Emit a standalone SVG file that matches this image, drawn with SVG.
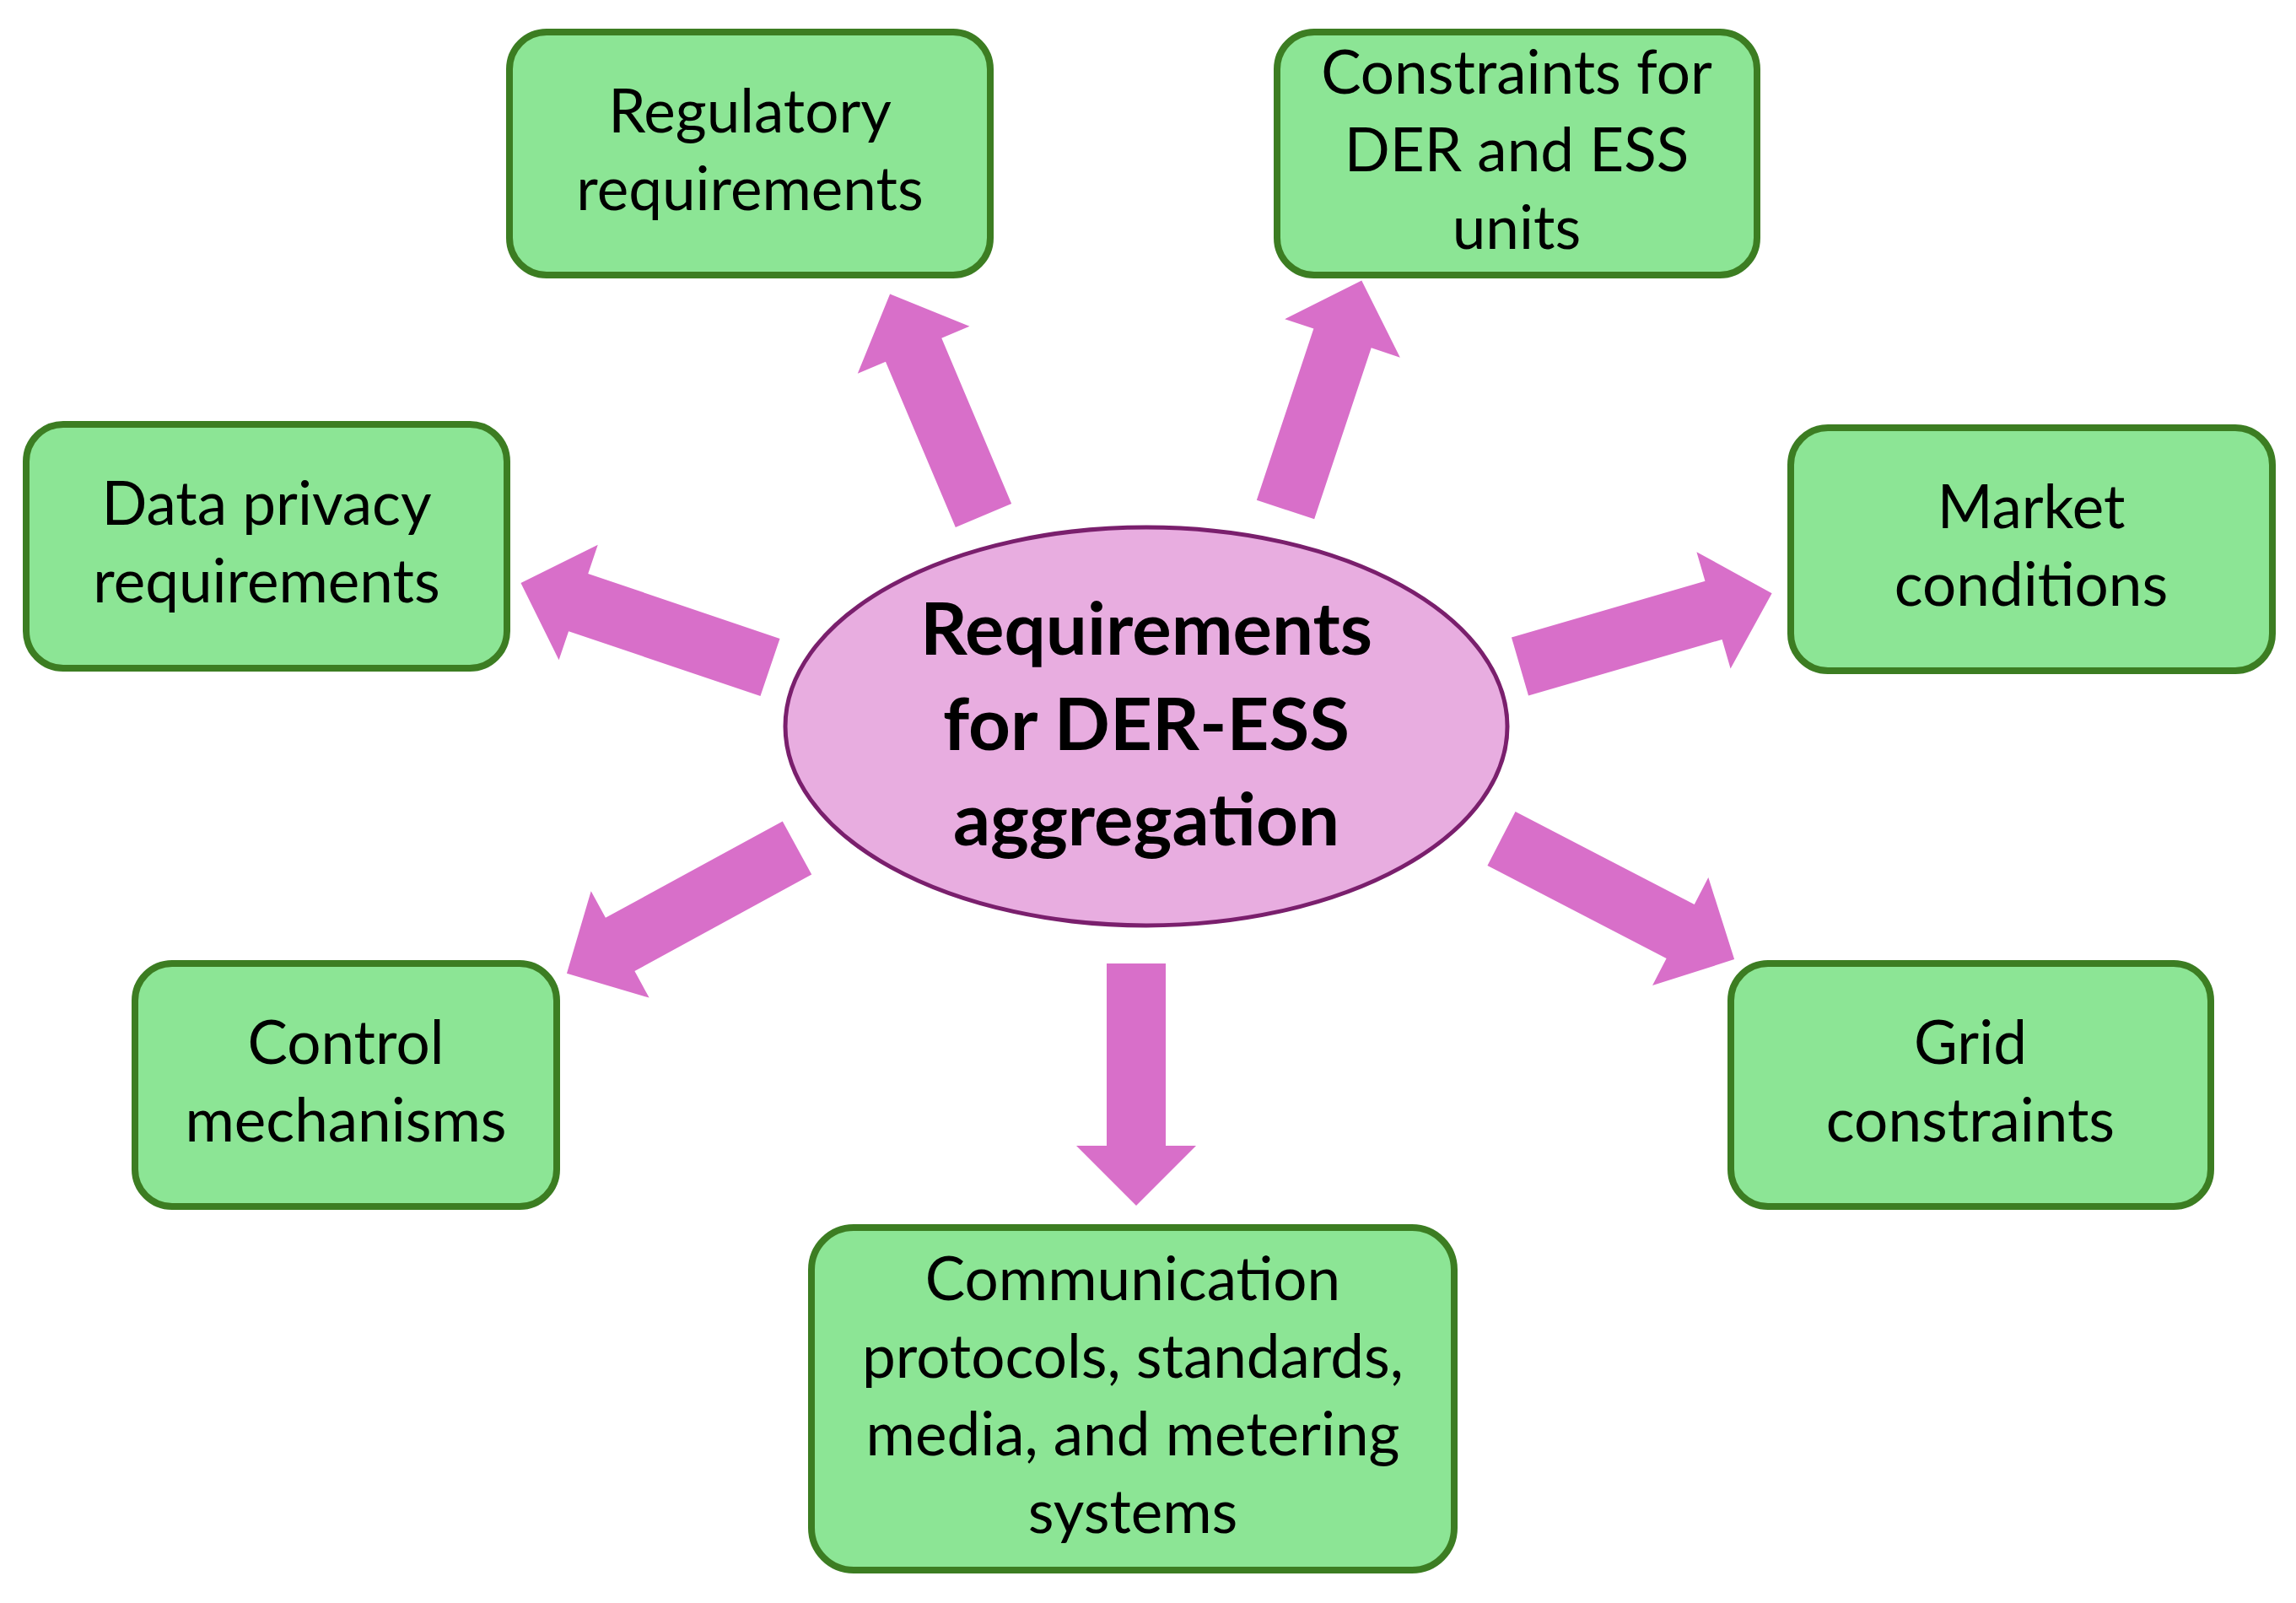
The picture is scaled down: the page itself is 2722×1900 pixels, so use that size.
<svg xmlns="http://www.w3.org/2000/svg" width="2722" height="1900" viewBox="0 0 2722 1900">
<style>
.box{fill:#8CE595;stroke:#3C7D22;stroke-width:8}
.lbl{font-family:Lato,"Open Sans",sans-serif;font-size:71px;fill:#000;text-anchor:middle}
.ctr{font-family:Lato,"Open Sans",sans-serif;font-size:87px;font-weight:bold;fill:#000;text-anchor:middle}
.arrow{fill:#D86FC9}
</style>
<rect width="2722" height="1900" fill="#fff"/>
<g id="connectors">
<polygon class="arrow" transform="translate(1166,611) rotate(-112.9)" points="0,-36 213,-36 213,-72 285,0 213,72 213,36 0,36"/>
<polygon class="arrow" transform="translate(1524,604) rotate(-71.6)" points="0,-36 214,-36 214,-72 286,0 214,72 214,36 0,36"/>
<polygon class="arrow" transform="translate(913,791) rotate(-161.3)" points="0,-36 240,-36 240,-72 312,0 240,72 240,36 0,36"/>
<polygon class="arrow" transform="translate(1802,790) rotate(-16.2)" points="0,-36 239,-36 239,-72 311,0 239,72 239,36 0,36"/>
<polygon class="arrow" transform="translate(945,1005) rotate(151.4)" points="0,-36 239,-36 239,-72 311,0 239,72 239,36 0,36"/>
<polygon class="arrow" transform="translate(1780,994) rotate(27.4)" points="0,-36 239,-36 239,-72 311,0 239,72 239,36 0,36"/>
<polygon class="arrow" transform="translate(1347,1142) rotate(90)" points="0,-35 216,-35 216,-71 287,0 216,71 216,35 0,35"/>
</g>
<g id="center">
<ellipse cx="1359" cy="861" rx="428" ry="236" fill="#E8ADE0" stroke="#7A1F6D" stroke-width="5"/>
<text class="ctr" x="1359" y="776">Requirements</text>
<text class="ctr" x="1359" y="889">for DER-ESS</text>
<text class="ctr" x="1359" y="1002">aggregation</text>
</g>
<g id="regulatory">
<rect class="box" x="604" y="38" width="570" height="288" rx="44"/>
<text class="lbl" x="889" y="157">Regulatory</text>
<text class="lbl" x="889" y="249">requirements</text>
</g>
<g id="constraints">
<rect class="box" x="1514" y="38" width="569" height="288" rx="44"/>
<text class="lbl" x="1798" y="111">Constraints for</text>
<text class="lbl" x="1798" y="203">DER and ESS</text>
<text class="lbl" x="1798" y="295">units</text>
</g>
<g id="dataprivacy">
<rect class="box" x="31" y="503" width="570" height="289" rx="44"/>
<text class="lbl" x="316" y="622">Data privacy</text>
<text class="lbl" x="316" y="714">requirements</text>
</g>
<g id="market">
<rect class="box" x="2123" y="507" width="571" height="288" rx="44"/>
<text class="lbl" x="2408" y="626">Market</text>
<text class="lbl" x="2408" y="718">conditions</text>
</g>
<g id="control">
<rect class="box" x="160" y="1142" width="500" height="288" rx="44"/>
<text class="lbl" x="410" y="1261">Control</text>
<text class="lbl" x="410" y="1353">mechanisms</text>
</g>
<g id="grid">
<rect class="box" x="2052" y="1142" width="569" height="288" rx="44"/>
<text class="lbl" x="2336" y="1261">Grid</text>
<text class="lbl" x="2336" y="1353">constraints</text>
</g>
<g id="communication">
<rect class="box" x="962" y="1455" width="762" height="406" rx="50"/>
<text class="lbl" x="1343" y="1541">Communication</text>
<text class="lbl" x="1343" y="1633">protocols, standards,</text>
<text class="lbl" x="1343" y="1725">media, and metering</text>
<text class="lbl" x="1343" y="1817">systems</text>
</g>
</svg>
